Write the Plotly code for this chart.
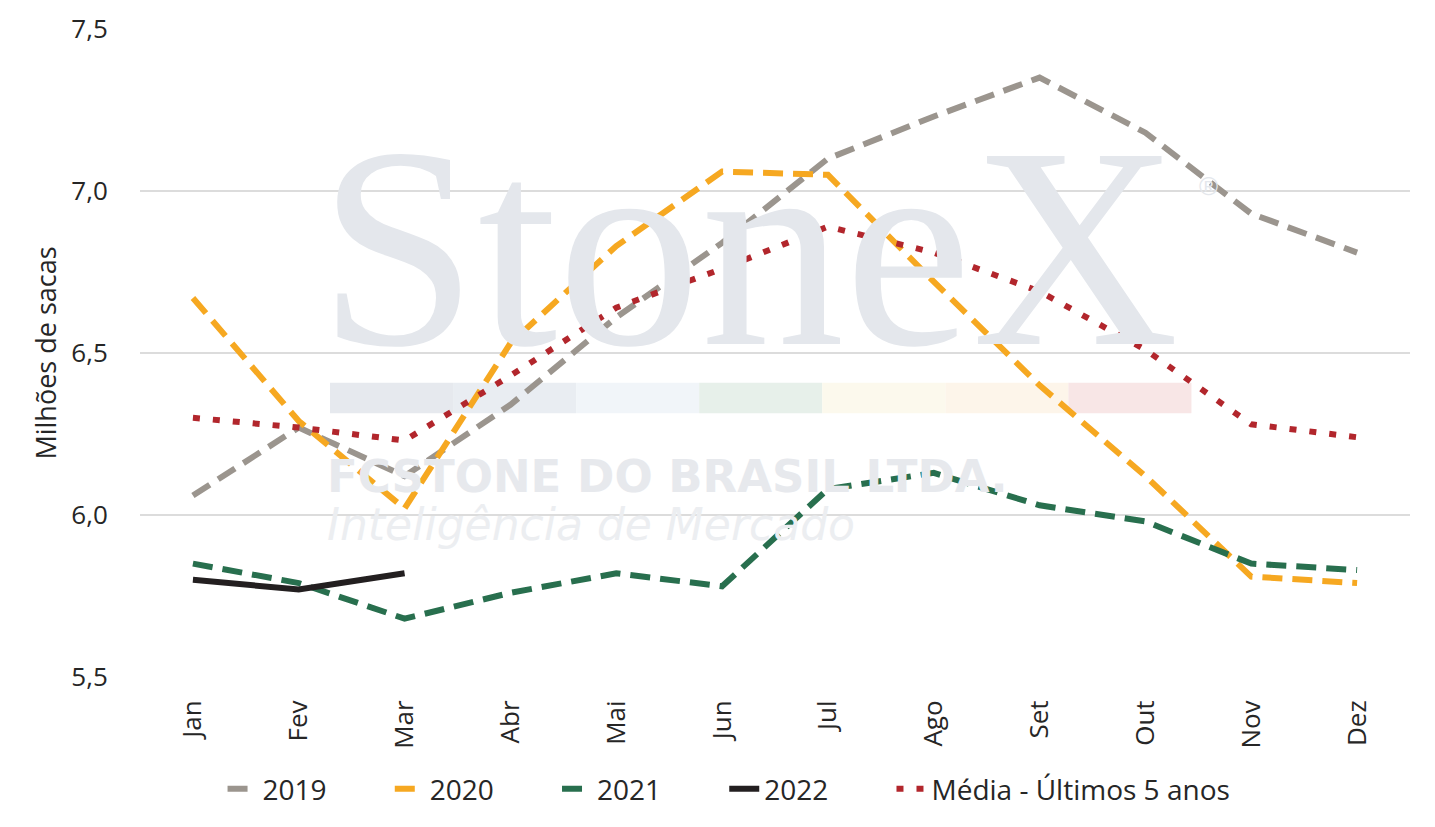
import plotly.graph_objects as go

months = ["Jan", "Fev", "Mar", "Abr", "Mai", "Jun", "Jul", "Ago", "Set", "Out", "Nov", "Dez"]

y2019 = [6.06, 6.27, 6.12, 6.34, 6.61, 6.84, 7.10, 7.23, 7.35, 7.18, 6.93, 6.81]
y2020 = [6.67, 6.29, 6.02, 6.53, 6.83, 7.06, 7.05, 6.72, 6.40, 6.12, 5.81, 5.79]
y2021 = [5.85, 5.79, 5.68, 5.76, 5.82, 5.78, 6.08, 6.13, 6.03, 5.98, 5.85, 5.83]
y2022 = [5.80, 5.77, 5.82]
media = [6.30, 6.27, 6.23, 6.43, 6.64, 6.76, 6.89, 6.81, 6.69, 6.51, 6.28, 6.24]

font = "Open Sans"
txt = "#262626"
pad = "\u00a0" * 8  # widen legend entries

fig = go.Figure()

series = [
    ("2019" + pad, y2019, "#9B958E", "20px,10px"),
    ("2020" + pad, y2020, "#F6A821", "20px,10px"),
    ("2021" + pad, y2021, "#286F4E", "20px,10px"),
    ("2022" + pad, y2022, "#231F20", "solid"),
    ("Média - Últimos 5 anos", media, "#B2262C", "7px,13px"),
]

for name, vals, color, dash in series:
    fig.add_trace(
        go.Scatter(
            x=months[: len(vals)],
            y=vals,
            name=name,
            mode="lines",
            line={"color": color, "width": 6, "dash": dash},
        )
    )

# watermark
wm = "#E4E7EC"
fig.add_annotation(
    text="StoneX", x=0.1386, y=0.664, xref="paper", yref="paper",
    xanchor="left", yanchor="middle", showarrow=False,
    font={"family": "Liberation Serif", "size": 287, "color": wm},
)
fig.add_annotation(
    text="®", x=0.832, y=0.757, xref="paper", yref="paper",
    xanchor="left", yanchor="middle", showarrow=False,
    font={"family": "Liberation Sans", "size": 26, "color": wm},
)
fig.add_annotation(
    text="<b>FCSTONE DO BRASIL LTDA.</b>", x=0.1456, y=0.309, xref="paper", yref="paper",
    xanchor="left", yanchor="middle", showarrow=False,
    font={"family": "DejaVu Sans", "size": 45, "color": "#E7E9ED"},
)
fig.add_annotation(
    text="<i>Inteligência de Mercado</i>", x=0.1456, y=0.235, xref="paper", yref="paper",
    xanchor="left", yanchor="middle", showarrow=False,
    font={"family": "DejaVu Sans", "size": 44, "color": "#ECEEF1"},
)
bar_colors = ["#E6E9EE", "#E9EDF2", "#F1F5F9", "#E7F0EA", "#FCF9ED", "#FDF5EA", "#F8E6E6"]
for i, c in enumerate(bar_colors):
    fig.add_shape(
        type="rect", xref="paper", yref="paper", layer="below",
        x0=0.1496 + i * 0.0969, x1=0.1496 + (i + 1) * 0.0969, y0=0.407, y1=0.454,
        fillcolor=c, line={"width": 0},
    )

fig.update_layout(
    width=1419,
    height=811,
    margin={"l": 132, "r": 17, "t": 21, "b": 142, "autoexpand": False},
    plot_bgcolor="white",
    paper_bgcolor="white",
    separators=",.",
    font={"family": font, "size": 26, "color": txt},
    legend={
        "orientation": "h", "x": 0.065, "xanchor": "left", "y": -0.173, "yanchor": "middle",
        "font": {"size": 28},
    },
    xaxis={
        "type": "category", "range": [-0.5, 11.5], "tickangle": -90, "automargin": False,
        "showgrid": False, "showline": False,
        "ticks": "outside", "ticklen": 12, "tickcolor": "rgba(0,0,0,0)",
        "tickfont": {"size": 26},
    },
    yaxis={
        "range": [5.5, 7.5], "dtick": 0.5, "tickformat": ".1f", "automargin": False,
        "gridcolor": "#DCDCDC", "gridwidth": 1.5, "zeroline": False, "showline": False,
        "ticks": "outside", "ticklen": 26, "tickcolor": "rgba(0,0,0,0)",
        "tickfont": {"size": 26},
        "title": {"text": "Milhões de sacas", "font": {"size": 27}, "standoff": 6},
    },
)

fig.write_html("out.html")
